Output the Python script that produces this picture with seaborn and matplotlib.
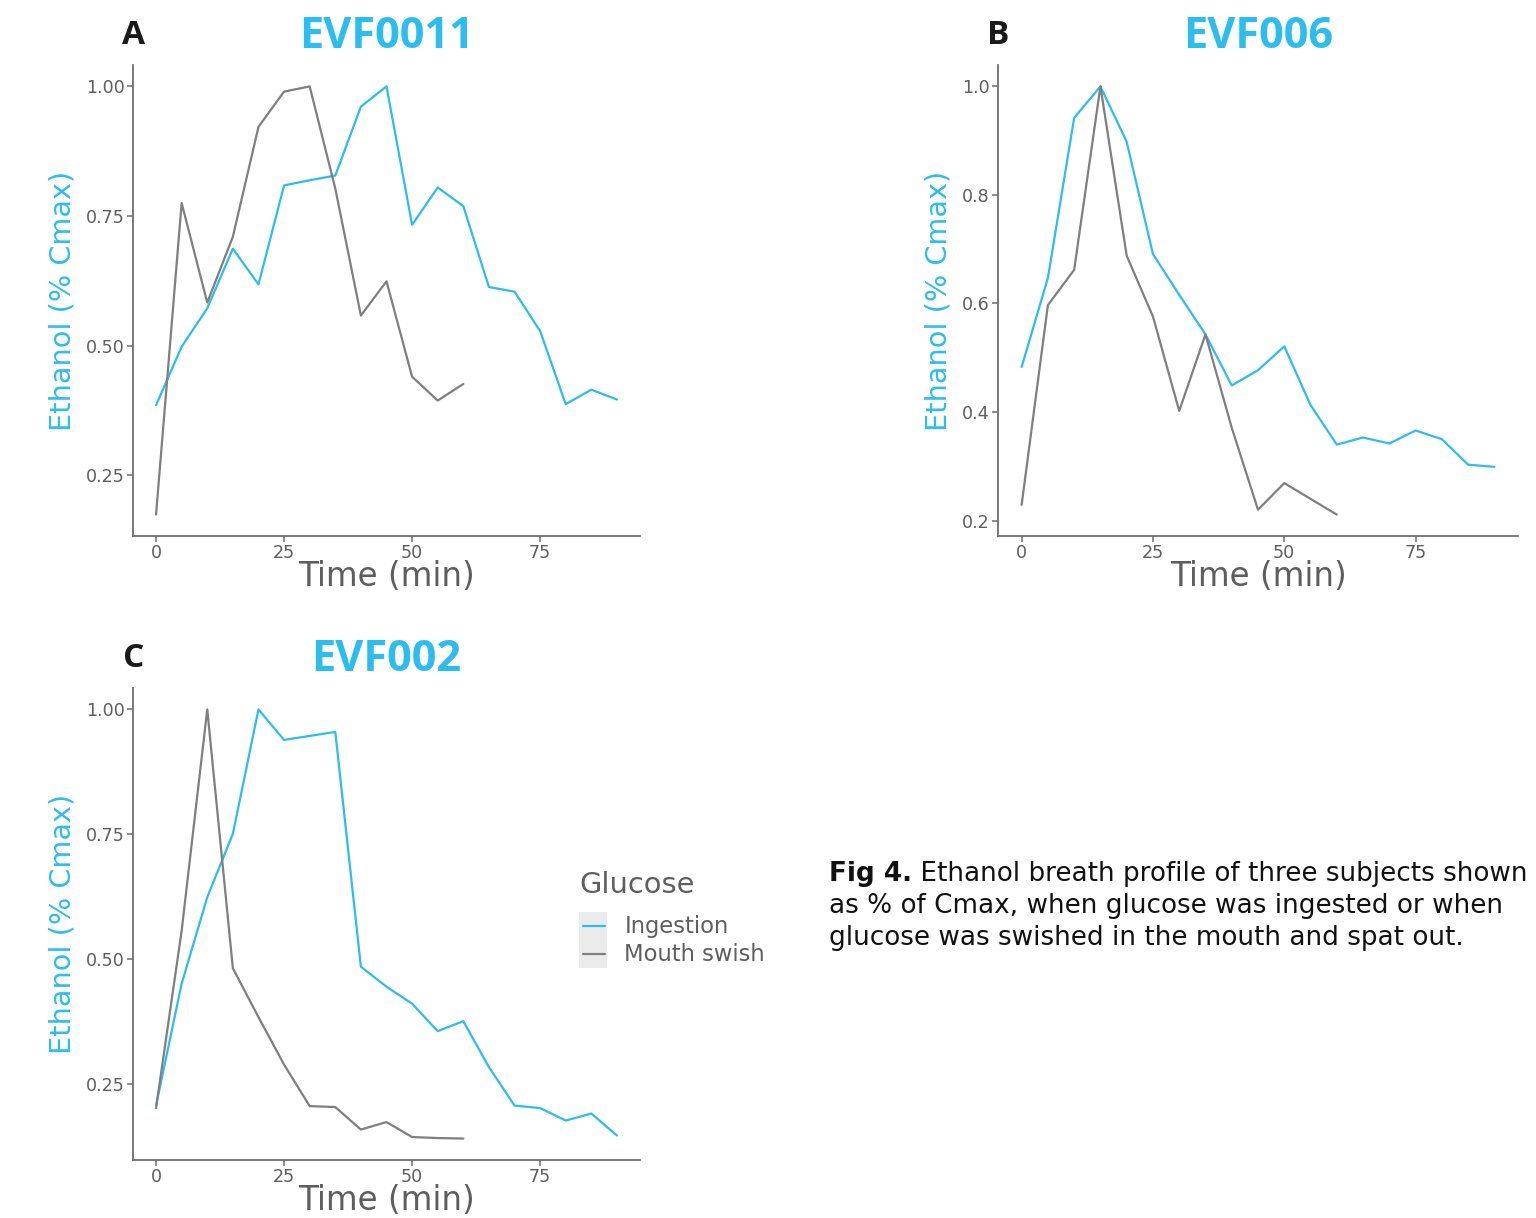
import matplotlib
matplotlib.use("Agg")
import matplotlib.pyplot as plt
import seaborn as sns
import pandas as pd
import numpy as np
from matplotlib.patches import Rectangle
from matplotlib.legend_handler import HandlerLine2D

# ---------------- data ----------------
time_ingestion = [0, 5, 10, 15, 20, 25, 30, 35, 40, 45, 50, 55, 60, 65, 70, 75, 80, 85, 90]
time_swish = [0, 5, 10, 15, 20, 25, 30, 35, 40, 45, 50, 55, 60]

evf0011_ingestion = [0.385, 0.498, 0.572, 0.687, 0.618, 0.809, 0.819, 0.828, 0.961, 1.0,
                     0.733, 0.805, 0.769, 0.613, 0.604, 0.528, 0.387, 0.415, 0.396]
evf0011_swish = [0.174, 0.775, 0.583, 0.710, 0.922, 0.990, 1.0, 0.803, 0.558, 0.624,
                 0.440, 0.394, 0.426]

evf006_ingestion = [0.483, 0.647, 0.942, 1.0, 0.898, 0.691, 0.616, 0.543, 0.449, 0.477,
                    0.521, 0.413, 0.340, 0.353, 0.342, 0.366, 0.350, 0.303, 0.299]
evf006_swish = [0.229, 0.597, 0.662, 1.0, 0.688, 0.576, 0.402, 0.543, 0.371, 0.220,
                0.269, 0.240, 0.211]

evf002_ingestion = [0.207, 0.451, 0.624, 0.751, 1.0, 0.939, 0.947, 0.955, 0.485, 0.445,
                    0.411, 0.356, 0.376, 0.284, 0.207, 0.202, 0.177, 0.191, 0.147]
evf002_swish = [0.202, 0.557, 1.0, 0.482, 0.384, 0.289, 0.206, 0.204, 0.159, 0.174,
                0.144, 0.142, 0.141]

subjects = ["EVF0011", "EVF006", "EVF002"]
panel_letters = ["A", "B", "C"]
groups = ["Ingestion", "Mouth swish"]
yticks_A = [0.25, 0.50, 0.75, 1.00]
yticks_B = [0.2, 0.4, 0.6, 0.8, 1.0]
yticks_C = [0.25, 0.50, 0.75, 1.00]
xticks = [0, 25, 50, 75]

caption_bold = "Fig 4."
caption_rest = (" Ethanol breath profile of three subjects shown\n"
                "as % of Cmax, when glucose was ingested or when\n"
                "glucose was swished in the mouth and spat out.")

# ---------------- styling ----------------
sns.set_theme(style="white")
FONT = ['DejaVu Sans']
TITLE_FONT = ['Open Sans', 'DejaVu Sans']
plt.rcParams['font.family'] = FONT

CYAN = "#2BBDEE"
GREY_LINE = "#7F7F7F"
AXIS_GREY = "#6E6E6E"
TEXT_GREY = "#5E5E5E"
palette = {"Ingestion": CYAN, "Mouth swish": GREY_LINE}

W, H = 1536, 1218
fig = plt.figure(figsize=(W / 100, H / 100), dpi=100)
renderer = fig.canvas.get_renderer()


def fit_size(text, target_px, weight="normal", family=FONT):
    """font size (pt) so that text spans target_px horizontally"""
    t = fig.text(0, 0, text, fontsize=20, fontweight=weight, family=family)
    bb = t.get_window_extent(renderer=renderer)
    t.remove()
    return 20 * target_px / bb.width


FS_TITLE = fit_size("EVF0011", 175, weight="bold", family=TITLE_FONT)
FS_XLAB = fit_size("Time (min)", 177)
FS_YLAB = fit_size("Ethanol (% Cmax)", 260)
FS_TICK = fit_size("1.00", 39)
FS_LEGT = fit_size("Glucose", 115)
FS_LEGL = fit_size("Mouth swish", 141)
FS_CAP = fit_size("as % of Cmax, when glucose was ingested or when", 672)
FS_LET = 24


def make_df(ing, sw):
    d1 = pd.DataFrame({"Time": time_ingestion, "Ethanol": ing, "Glucose": "Ingestion"})
    d2 = pd.DataFrame({"Time": time_swish, "Ethanol": sw, "Glucose": "Mouth swish"})
    return pd.concat([d1, d2], ignore_index=True)


dfs = [make_df(evf0011_ingestion, evf0011_swish),
       make_df(evf006_ingestion, evf006_swish),
       make_df(evf002_ingestion, evf002_swish)]
yticks_all = [yticks_A, yticks_B, yticks_C]

# axes rects in pixel coords (left, top, right, bottom)
rects_px = [(133, 65, 640, 536), (998, 65, 1518, 536), (133, 688, 640, 1160)]
ylabel_offset_px = [71, 60, 71]

axes = []
for i, (l, t, r, b) in enumerate(rects_px):
    ax = fig.add_axes([l / W, 1 - b / H, (r - l) / W, (b - t) / H])
    axes.append(ax)
    df = dfs[i]
    sns.lineplot(data=df, x="Time", y="Ethanol", hue="Glucose", hue_order=groups,
                 palette=palette, linewidth=1.6, ax=ax, legend=(i == 2), estimator=None)
    ymin, ymax = df["Ethanol"].min(), df["Ethanol"].max()
    ex = (ymax - ymin) * 0.05
    ax.set_ylim(ymin - ex, ymax + ex)
    ax.set_xlim(-4.5, 94.5)
    ax.set_xticks(xticks)
    ax.set_yticks(yticks_all[i])
    if i == 1:
        ax.set_yticklabels([f"{v:.1f}" for v in yticks_all[i]])
    else:
        ax.set_yticklabels([f"{v:.2f}" for v in yticks_all[i]])
    for s in ["top", "right"]:
        ax.spines[s].set_visible(False)
    for s in ["left", "bottom"]:
        ax.spines[s].set_color(AXIS_GREY)
        ax.spines[s].set_linewidth(1.3)
    ax.tick_params(axis="both", which="major", direction="out", length=4, width=1.1,
                   color=AXIS_GREY, labelcolor=TEXT_GREY, labelsize=FS_TICK, pad=2,
                   bottom=True, left=True)
    h_px, w_px = b - t, r - l
    ax.set_xlabel("Time (min)", color=TEXT_GREY, fontsize=FS_XLAB)
    ax.xaxis.label.set_va("baseline")
    ax.xaxis.set_label_coords(0.5, -50 / h_px)
    ax.set_ylabel("Ethanol (% Cmax)", color=CYAN, fontsize=FS_YLAB)
    ax.yaxis.label.set_va("center")
    ax.yaxis.set_label_coords(-ylabel_offset_px[i] / w_px, 0.5)
    ax.grid(False)
    ax.set_facecolor("white")
    # title centred over the axes
    fig.text((l + r) / 2 / W, 1 - (t - 17) / H, subjects[i], fontsize=FS_TITLE,
             fontweight="bold", color=CYAN, ha="center", va="baseline",
             family=TITLE_FONT)
    # panel letter
    fig.text((l + 0.5) / W, 1 - (t - 21) / H, panel_letters[i], fontsize=FS_LET,
             fontweight="bold", color="#1A1A1A", ha="center", va="baseline",
             family=TITLE_FONT)


class KeyWithBackground(HandlerLine2D):
    """legend key: grey square background + short line (ggplot style)"""
    def create_artists(self, legend, orig_handle, xdescent, ydescent, width, height,
                       fontsize, trans):
        arts = super().create_artists(legend, orig_handle, xdescent, ydescent,
                                      width, height, fontsize, trans)
        bg = Rectangle((-xdescent, -ydescent), width, height, facecolor="#EBEBEB",
                       edgecolor="none", transform=trans)
        for a in arts:
            if hasattr(a, "set_xdata"):
                a.set_xdata([-xdescent + 0.14 * width, -xdescent + 0.92 * width])
                a.set_ydata([-ydescent + height / 2] * 2)
        return [bg] + list(arts)


# legend for panel C placed to the right
axC = axes[2]
handles, labels = axC.get_legend_handles_labels()
axC.get_legend().remove()
fs_px = FS_LEGL * 100 / 72
row_ratio = 28 / fs_px
hh = (row_ratio - 0.245) / 0.65
leg = axC.legend(handles, labels, title="Glucose", loc="upper left",
                 bbox_to_anchor=(576 / W, 1 - 868 / H), bbox_transform=fig.transFigure,
                 frameon=False, fontsize=FS_LEGL, title_fontsize=FS_LEGT,
                 handlelength=28 / fs_px, handleheight=hh,
                 handletextpad=0.75, labelspacing=0.0,
                 borderpad=0.15, borderaxespad=0, alignment="left",
                 handler_map={h: KeyWithBackground() for h in handles})
leg._legend_box.sep = 9
for txt in leg.get_texts():
    txt.set_color(TEXT_GREY)
leg.get_title().set_color(TEXT_GREY)
for line in leg.get_lines():
    line.set_linewidth(1.6)

# caption
cap_x = 829 / W
bold_t = fig.text(cap_x, 1 - 881 / H, caption_bold, fontsize=FS_CAP, fontweight="bold",
                  color="#111111", ha="left", va="baseline")
bb = bold_t.get_window_extent(renderer=renderer)
lines = caption_rest.split("\n")
fig.text(bb.x1 / W, 1 - 881 / H, lines[0], fontsize=FS_CAP, color="#111111",
         ha="left", va="baseline")
for k, ln in enumerate(lines[1:]):
    fig.text(cap_x, 1 - (881 + 32 * (k + 1)) / H, ln, fontsize=FS_CAP, color="#111111",
             ha="left", va="baseline")

fig.savefig("out.png", dpi=100, facecolor="white")
